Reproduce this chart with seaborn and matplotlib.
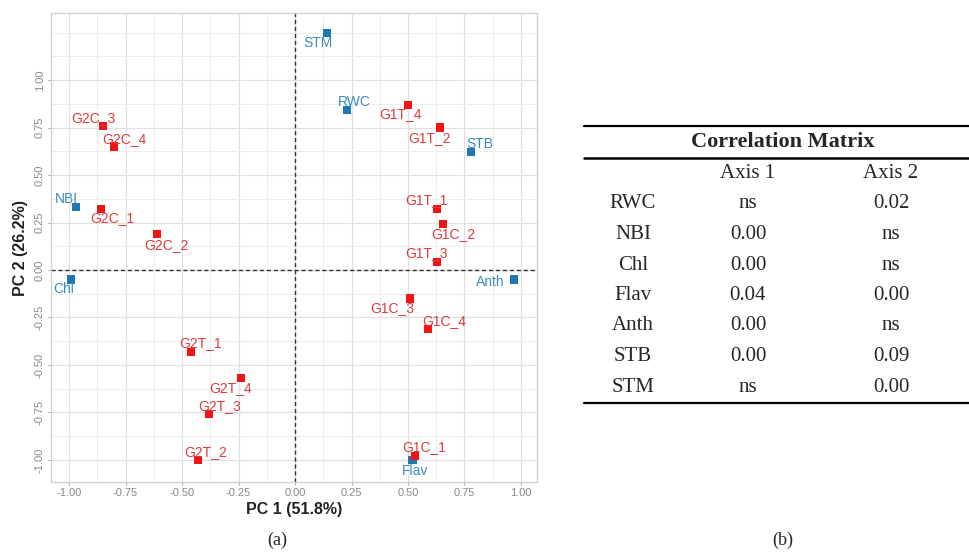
import numpy as np
import pandas as pd
import matplotlib
matplotlib.use("Agg")
import matplotlib.pyplot as plt
import seaborn as sns

# PCA biplot data
names = ["STM", "RWC", "STB", "NBI", "Chl", "Anth", "Flav",
         "G1T_4", "G1T_2", "G1T_1", "G1C_2", "G1T_3", "G1C_3", "G1C_4", "G1C_1",
         "G2C_3", "G2C_4", "G2C_1", "G2C_2", "G2T_1", "G2T_4", "G2T_3", "G2T_2"]
pc1 = [0.14, 0.23, 0.78, -0.97, -0.99, 0.97, 0.52,
       0.50, 0.64, 0.63, 0.655, 0.63, 0.51, 0.59, 0.53,
       -0.85, -0.80, -0.86, -0.61, -0.46, -0.24, -0.38, -0.43]
pc2 = [1.25, 0.84, 0.62, 0.33, -0.05, -0.05, -1.00,
       0.87, 0.75, 0.32, 0.24, 0.04, -0.15, -0.31, -0.98,
       0.76, 0.65, 0.32, 0.19, -0.43, -0.57, -0.76, -1.00]
kind = ["var"] * 7 + ["ind"] * 16

# correlation matrix table
table_title = "Correlation Matrix"
table_cols = ["Axis 1", "Axis 2"]
table_rows = ["RWC", "NBI", "Chl", "Flav", "Anth", "STB", "STM"]
axis1_vals = ["ns", "0.00", "0.00", "0.04", "0.00", "0.00", "ns"]
axis2_vals = ["0.02", "ns", "ns", "0.00", "ns", "0.09", "0.00"]

# label offsets in pixels (dx right, dy down), mimicking ggrepel placement
label_offsets = {
    "STM": (-9, 10), "RWC": (7, -8), "STB": (9, -8), "NBI": (-9, -8),
    "Chl": (-8, 9), "Anth": (-24, 2), "Flav": (3, 11),
    "G1T_4": (-7, 9), "G1T_2": (-10, 10), "G1T_1": (-11, -9), "G1C_2": (10, 10),
    "G1T_3": (-11, -9), "G1C_3": (-18, 10), "G1C_4": (16, -8), "G1C_1": (9, -9),
    "G2C_3": (-10, -8), "G2C_4": (10, -8), "G2C_1": (12, 9), "G2C_2": (9, 11),
    "G2T_1": (9, -9), "G2T_4": (-10, 10), "G2T_3": (10, -8), "G2T_2": (8, -8),
}

point_colors = {"var": "#1f78b4", "ind": "#f01414"}
text_colors = {"var": "#3a8dbb", "ind": "#dc3c3c"}

sns.set_theme(style="white")
plt.rcParams["font.family"] = ["Liberation Sans", "DejaVu Sans"]

df = pd.DataFrame({"name": names, "PC1": pc1, "PC2": pc2, "kind": kind})

fig = plt.figure(figsize=(9.7, 5.58), dpi=100)
ax = fig.add_axes([51 / 970, 1 - 482 / 558, (537 - 51) / 970, (482 - 13) / 558])

# grid
ax.set_xlim(-1.08, 1.071)
ax.set_ylim(-1.116, 1.353)
major = np.arange(-1.0, 1.01, 0.25)
minor = np.arange(-1.0, 1.26, 0.125)
ax.set_xticks(major)
ax.set_yticks(major)
ax.set_xticks(minor[minor <= 1.0], minor=True)
ax.set_yticks(minor, minor=True)
ax.grid(True, which="major", color="#e0e0e0", linewidth=0.9)
ax.grid(True, which="minor", color="#ececec", linewidth=0.7)
ax.set_axisbelow(True)
for s in ax.spines.values():
    s.set_color("#cfcfcf")
    s.set_linewidth(0.9)

ax.axhline(0, color="#333333", linestyle=(0, (3, 2)), linewidth=1.0, zorder=2)
ax.axvline(0, color="#333333", linestyle=(0, (3, 2)), linewidth=1.0, zorder=2)

sns.scatterplot(data=df, x="PC1", y="PC2", hue="kind", palette=point_colors,
                marker="s", s=34, linewidth=0, legend=False, ax=ax, zorder=3)

for _, row in df.iterrows():
    dx, dy = label_offsets[row["name"]]
    ax.annotate(row["name"], (row["PC1"], row["PC2"]), xytext=(dx, -dy),
                textcoords="offset pixels", ha="center", va="center",
                fontsize=10, color=text_colors[row["kind"]], zorder=4)

ax.set_xticklabels([f"{v:.2f}" for v in major])
ax.set_yticklabels([f"{v:.2f}" for v in major])
ax.tick_params(axis="both", which="major", length=2.5, width=0.8, color="#aaaaaa",
               labelsize=8, labelcolor="#888888", pad=2, bottom=True, left=True)
ax.tick_params(axis="both", which="minor", length=0)
for lab in ax.get_yticklabels():
    lab.set_rotation(90)
    lab.set_va("center")

ax.set_xlabel("PC 1 (51.8%)", fontsize=11.5, fontweight="bold", color="#222222", labelpad=3)
ax.set_ylabel("PC 2 (26.2%)", fontsize=11.5, fontweight="bold", color="#222222", labelpad=5)

# panel labels
serif = ["Liberation Serif", "DejaVu Serif"]
fig.text(277 / 970, 1 - 540 / 558, "(a)", ha="center", va="center", fontsize=13, family=serif)
fig.text(783 / 970, 1 - 540 / 558, "(b)", ha="center", va="center", fontsize=13, family=serif)

# table (b) drawn on an overlay axes in pixel coordinates
tab = fig.add_axes([0, 0, 1, 1], facecolor="none")
tab.set_xlim(0, 970)
tab.set_ylim(558, 0)
tab.axis("off")

tab.plot([584, 970], [126, 126], color="black", linewidth=1.6)
tab.plot([584, 970], [158, 158], color="black", linewidth=1.8)
tab.plot([584, 970], [403, 403], color="black", linewidth=1.6)

tab.text(783, 142, table_title, ha="center", va="center", fontsize=16,
         fontweight="bold", family=serif)
col_x = [748, 891]
for cx, c in zip(col_x, table_cols):
    tab.text(cx, 173, c, ha="center", va="center", fontsize=15, family=serif)

row_y = 204
for i, r in enumerate(table_rows):
    y = row_y + i * 30.5
    tab.text(633, y, r, ha="center", va="center", fontsize=15, family=serif)
    tab.text(col_x[0], y, axis1_vals[i], ha="center", va="center", fontsize=15, family=serif)
    tab.text(col_x[1], y, axis2_vals[i], ha="center", va="center", fontsize=15, family=serif)

fig.savefig("out.png", dpi=100)
